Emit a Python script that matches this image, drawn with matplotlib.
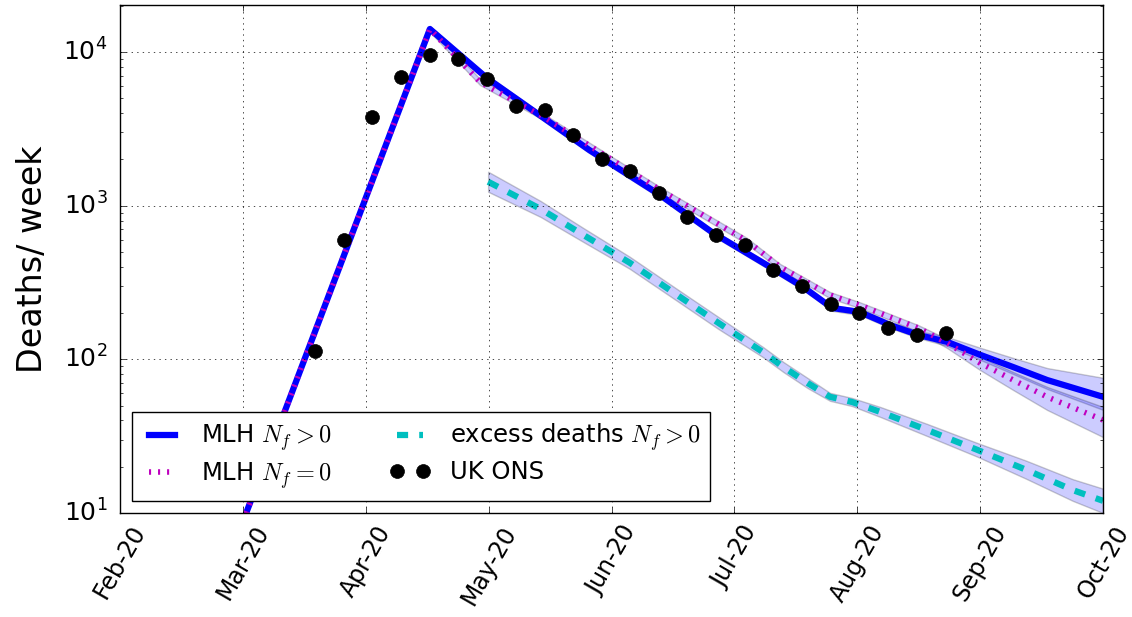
import numpy as np
import matplotlib
matplotlib.use('Agg')
import matplotlib.pyplot as plt

# x in days since 1 Feb 2020, months drawn equally spaced
month_labels = ['Feb-20', 'Mar-20', 'Apr-20', 'May-20', 'Jun-20',
                'Jul-20', 'Aug-20', 'Sep-20', 'Oct-20']

# UK ONS weekly deaths
ons_days = [48.2, 55.4, 62.3, 69.5, 76.6, 83.6, 90.7, 97.9, 105.1, 112.0, 119.2, 126.1,
            133.3, 140.2, 147.3, 154.5, 161.4, 168.6, 175.8, 182.7, 189.9, 197.0, 204.2]
ons_vals = [113, 598, 3770, 6870, 9550, 9000, 6670, 4450, 4190, 2880, 2010, 1680,
            1208, 844, 644, 555, 381, 300, 229, 200, 160, 144, 148]

# MLH N_f > 0
mlh_days = [28, 76.6, 90.7, 116, 133.5, 146.6, 163.2, 168.9, 176, 182.9, 190.4, 197.3,
            204.4, 212.6, 220.8, 229.2, 243]
mlh_vals = [6.0, 14100, 6760, 2300, 1172, 664, 364, 295, 216, 203, 167, 144,
            130, 107, 89, 73.3, 57]
mlh_hi = [14750, 7070, 2406, 1226, 695, 381, 309, 226, 212, 175, 153,
          140, 119, 102, 87.7, 75.8]
mlh_lo = [13480, 6463, 2199, 1120, 635, 348, 282, 206.5, 194, 159.7, 137.7,
          122.4, 99.3, 80.2, 64.1, 46.9]

# MLH N_f = 0
mlh0_days = [28, 76.6, 89, 105.1, 133.5, 155, 163.2, 175.5, 182.9, 190.4, 197.3,
             204.4, 212.6, 220.8, 229.2, 243]
mlh0_vals = [6.0, 14100, 6370, 3720, 1265, 589, 399, 262, 225, 188, 160,
             128, 94.6, 73.3, 56.9, 40.3]
mlh0_hi = [14750, 6663, 3891, 1323, 616, 417, 274, 235, 197, 167,
           136, 103.5, 82.6, 66.1, 49.0]
mlh0_lo = [13480, 6090, 3556, 1209, 563, 381, 250, 215, 180, 150.7,
           118.7, 85.2, 63.1, 46.8, 31.2]

# excess deaths N_f > 0
exc_days = [91, 104, 114.5, 126, 137, 148, 159, 164, 170, 175.5, 181, 188,
            199.5, 212, 224, 235.5, 243]
exc_vals = [1430, 950, 645, 425, 270, 172, 111, 89, 70, 57, 52.7, 45.4,
            34.7, 25.7, 19.1, 14.1, 12.0]
exc_hi = [1662, 1071, 716, 465, 295, 188, 120, 96, 75.5, 60.5, 56.0, 48.9,
          38.0, 28.5, 21.9, 16.6, 14.4]
exc_lo = [1231, 843, 581, 388, 247, 157, 103, 82.6, 64.9, 53.7, 49.6, 42.1,
          31.7, 23.2, 16.7, 12.0, 10.0]

plt.style.use('classic')
plt.rcParams['mathtext.fontset'] = 'cm'
fig = plt.figure(figsize=(11.32, 6.17), dpi=100, facecolor='white')
ax = fig.add_axes([0.106, 0.1686, 0.8684, 0.8233])

ax.fill_between(mlh_days[1:], mlh_lo, mlh_hi, facecolor='b', edgecolor='k', alpha=0.2)
ax.fill_between(mlh0_days[1:], mlh0_lo, mlh0_hi, facecolor='b', edgecolor='k', alpha=0.2)
ax.fill_between(exc_days, exc_lo, exc_hi, facecolor='b', edgecolor='k', alpha=0.2)

ax.plot(mlh_days, mlh_vals, 'b-', lw=4.5, label=r'MLH $N_f>0$')
ax.plot(mlh0_days, mlh0_vals, 'm', ls=(0, (1.5, 5)), lw=4, label=r'MLH $N_f=0$')
ax.plot(exc_days, exc_vals, 'c', ls=(0, (8, 8)), lw=4.5, label=r'excess deaths $N_f>0$')
ax.plot(ons_days, ons_vals, 'ko', ms=10, label='UK ONS')

ax.set_yscale('log')
ax.set_ylim(10, 2.02e4)
ax.set_xlim(0, 243)
ax.set_xticks(np.linspace(0, 243, 9))
ax.set_xticklabels(month_labels, rotation=60, fontsize=17)
ax.tick_params(axis='x', pad=6)
ax.tick_params(axis='y', labelsize=18, pad=9)
ax.set_ylabel('Deaths/ week', fontsize=24, labelpad=10)
ax.grid(True)

ax.legend(loc='lower left', ncol=2, fontsize=17.5, handlelength=1.65,
          columnspacing=2.4, labelspacing=0.3)

fig.savefig('out.png', dpi=100, facecolor='white')
